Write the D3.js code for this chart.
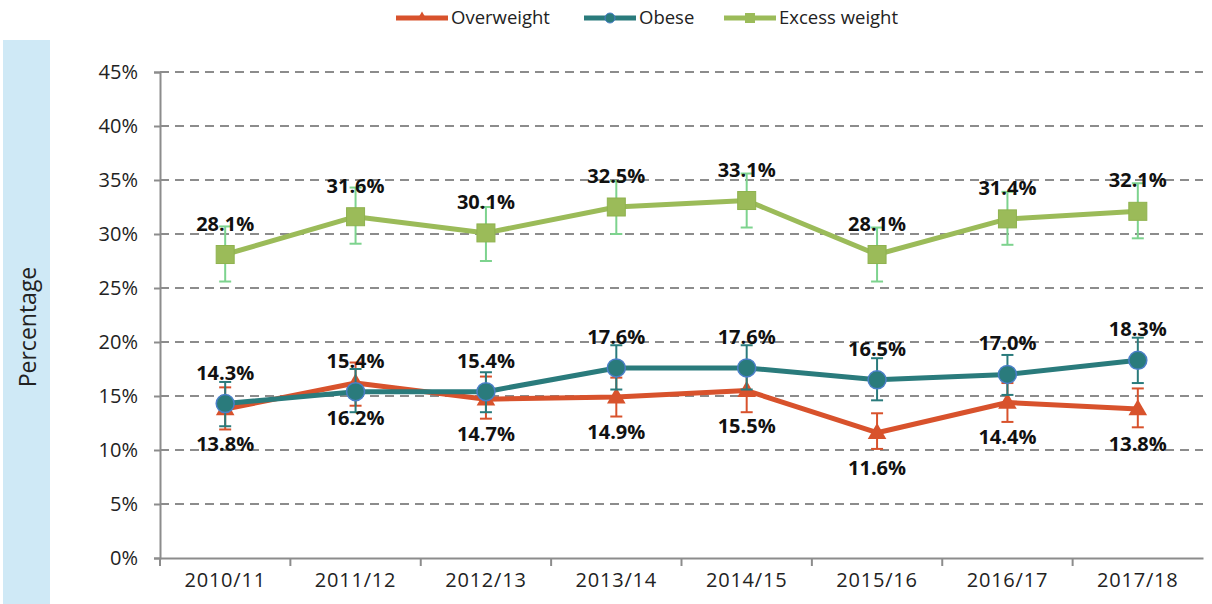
<!DOCTYPE html>
<html>
<head>
  <meta charset="utf-8">
  <script src="https://d3js.org/d3.v7.min.js"></script>
  <style>
    body { margin: 0; background: #fff; }
    svg { display: block; }
  </style>
</head>
<body>
<script>
  // data
  var years = ["2010/11", "2011/12", "2012/13", "2013/14", "2014/15", "2015/16", "2016/17", "2017/18"];
  var yTicks = [0, 5, 10, 15, 20, 25, 30, 35, 40, 45];

  var overweight    = [13.8, 16.2, 14.7, 14.9, 15.5, 11.6, 14.4, 13.8];
  var overweightLow = [11.9, 14.1, 12.9, 13.1, 13.5, 10.1, 12.6, 12.1];
  var overweightHigh= [15.8, 18.1, 16.8, 16.7, 17.5, 13.4, 16.2, 15.7];

  var obese     = [14.3, 15.4, 15.4, 17.6, 17.6, 16.5, 17.0, 18.3];
  var obeseLow  = [12.2, 13.5, 13.5, 15.6, 15.6, 14.6, 15.1, 16.2];
  var obeseHigh = [16.3, 17.5, 17.2, 19.7, 19.7, 18.5, 18.8, 20.4];

  var excess     = [28.1, 31.6, 30.1, 32.5, 33.1, 28.1, 31.4, 32.1];
  var excessLow  = [25.6, 29.1, 27.5, 30.0, 30.6, 25.6, 29.0, 29.6];
  var excessHigh = [30.7, 34.3, 32.5, 34.9, 35.6, 30.6, 33.9, 34.7];

  var W = 1212, H = 604;
  var svg = d3.select("body").append("svg").attr("width", W).attr("height", H);

  // light blue strip holding the y title
  svg.append("rect").attr("x", 3).attr("y", 40).attr("width", 47).attr("height", 564)
    .attr("fill", "#cfe9f6");
  svg.append("text")
    .attr("transform", "translate(36,327) rotate(-90)")
    .attr("text-anchor", "middle")
    .style("font-family", "'Open Sans', sans-serif")
    .style("font-size", "23px")
    .style("fill", "#222")
    .text("Percentage");

  var x = d3.scaleBand().domain(years).range([160, 1203]);
  var y = d3.scaleLinear().domain([0, 45]).range([558, 72]);
  var cx = function (c) { return x(c) + x.bandwidth() / 2; };

  // dashed gridlines
  svg.append("g").selectAll("line")
    .data(yTicks.filter(function (d) { return d > 0; }))
    .enter().append("line")
      .attr("x1", 160).attr("x2", 1203)
      .attr("y1", function (d) { return y(d); })
      .attr("y2", function (d) { return y(d); })
      .attr("stroke", "#8c8c8c").attr("stroke-width", 2)
      .attr("stroke-dasharray", "9,6");

  // y axis
  var yAxis = svg.append("g").attr("transform", "translate(160,0)")
    .call(d3.axisLeft(y).tickValues(yTicks).tickSize(6).tickPadding(16)
      .tickFormat(function (d) { return d + "%"; }));
  yAxis.select(".domain").attr("stroke", "#8c8c8c").attr("stroke-width", 2);
  yAxis.selectAll(".tick line").attr("stroke", "#8c8c8c").attr("stroke-width", 2);
  yAxis.selectAll(".tick text")
    .style("font-family", "'Open Sans', sans-serif").style("font-size", "20px").style("fill", "#222");

  // x axis: labels at band centres, ticks at band edges
  var xAxis = svg.append("g").attr("transform", "translate(0,558)")
    .call(d3.axisBottom(x).tickSize(0).tickPadding(15));
  xAxis.select(".domain").attr("stroke", "#8c8c8c").attr("stroke-width", 2);
  xAxis.selectAll(".tick text")
    .style("font-family", "'Open Sans', sans-serif").style("font-size", "20px")
    .style("letter-spacing", "0.8px").style("fill", "#222")
    .attr("dy", "0.71em");
  svg.append("g").selectAll("line")
    .data(years)
    .enter().append("line")
      .attr("x1", function (d) { return x(d); }).attr("x2", function (d) { return x(d); })
      .attr("y1", 558).attr("y2", 566)
      .attr("stroke", "#8c8c8c").attr("stroke-width", 2);

  var series = [
    { name: "Excess weight", vals: excess, lo: excessLow, hi: excessHigh,
      color: "#9bbb59", err: "#7dd38e", marker: "square", labelPos: "above" },
    { name: "Overweight", vals: overweight, lo: overweightLow, hi: overweightHigh,
      color: "#d8522c", err: "#d8522c", marker: "triangle", labelPos: "below" },
    { name: "Obese", vals: obese, lo: obeseLow, hi: obeseHigh,
      color: "#2a7b7c", err: "#2a7b7c", marker: "circle", labelPos: "above" }
  ];

  var line = d3.line()
    .x(function (d, i) { return cx(years[i]); })
    .y(function (d) { return y(d); });

  function drawMarker(g, type, color, px, py) {
    if (type === "square") {
      g.append("rect").attr("x", px - 9).attr("y", py - 9).attr("width", 18).attr("height", 18)
        .attr("fill", color).attr("stroke", "#8fb24f").attr("stroke-width", 1);
    } else if (type === "circle") {
      g.append("circle").attr("cx", px).attr("cy", py).attr("r", 9)
        .attr("fill", color).attr("stroke", "#4a7fc8").attr("stroke-width", 1.5);
    } else {
      g.append("path")
        .attr("d", d3.symbol().type(d3.symbolTriangle).size(150)())
        .attr("transform", "translate(" + px + "," + (py + 1) + ")")
        .attr("fill", color);
    }
  }

  series.forEach(function (s) {
    var g = svg.append("g");
    // error bars
    years.forEach(function (c, i) {
      var px = cx(c);
      g.append("line").attr("x1", px).attr("x2", px)
        .attr("y1", y(s.lo[i])).attr("y2", y(s.hi[i]))
        .attr("stroke", s.err).attr("stroke-width", 2);
      [s.lo[i], s.hi[i]].forEach(function (v) {
        g.append("line").attr("x1", px - 6).attr("x2", px + 6)
          .attr("y1", y(v)).attr("y2", y(v))
          .attr("stroke", s.err).attr("stroke-width", 2);
      });
    });
    g.append("path").datum(s.vals).attr("d", line)
      .attr("fill", "none").attr("stroke", s.color).attr("stroke-width", 5)
      .attr("stroke-linejoin", "round");
    years.forEach(function (c, i) {
      drawMarker(g, s.marker, s.color, cx(c), y(s.vals[i]));
    });
  });

  // value labels on top of everything
  series.forEach(function (s) {
    svg.append("g").selectAll("text")
      .data(s.vals)
      .enter().append("text")
        .attr("x", function (d, i) { return cx(years[i]); })
        .attr("y", function (d) { return s.labelPos === "above" ? y(d) - 24 : y(d) + 42; })
        .attr("text-anchor", "middle")
        .style("font-family", "'Open Sans', sans-serif")
        .style("font-weight", "bold")
        .style("font-size", "20px")
        .style("fill", "#111")
        .text(function (d) { return d.toFixed(1) + "%"; });
  });

  // legend
  var legendItems = [
    { name: "Overweight", color: "#d8522c", marker: "triangle", x: 396 },
    { name: "Obese", color: "#2a7b7c", marker: "circle", x: 584 },
    { name: "Excess weight", color: "#9bbb59", marker: "square", x: 724 }
  ];
  legendItems.forEach(function (it) {
    var g = svg.append("g");
    g.append("line").attr("x1", it.x).attr("x2", it.x + 52).attr("y1", 18).attr("y2", 18)
      .attr("stroke", it.color).attr("stroke-width", 5);
    if (it.marker === "square") {
      g.append("rect").attr("x", it.x + 21).attr("y", 13).attr("width", 10).attr("height", 10)
        .attr("fill", it.color);
    } else if (it.marker === "circle") {
      g.append("circle").attr("cx", it.x + 26).attr("cy", 18).attr("r", 5)
        .attr("fill", it.color).attr("stroke", "#4a7fc8").attr("stroke-width", 1);
    } else {
      g.append("path").attr("d", d3.symbol().type(d3.symbolTriangle).size(40)())
        .attr("transform", "translate(" + (it.x + 26) + ",17)").attr("fill", it.color);
    }
    g.append("text").attr("x", it.x + 55).attr("y", 24)
      .style("font-family", "'Open Sans', sans-serif").style("font-size", "18.5px").style("fill", "#222")
      .text(it.name);
  });
</script>
</body>
</html>
